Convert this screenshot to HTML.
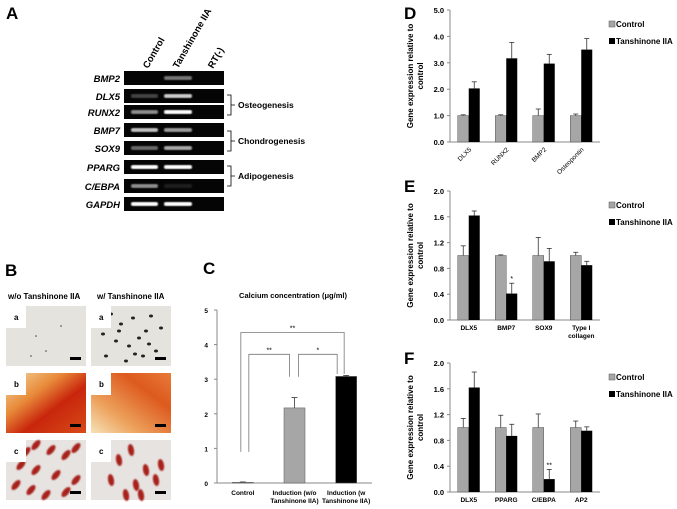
<!DOCTYPE html>
<html><head><meta charset="utf-8">
<style>
html,body{margin:0;padding:0;background:#fff;}
svg{display:block;font-family:"Liberation Sans",Arial,sans-serif;}
</style></head>
<body>
<svg id="fig" width="677" height="509" viewBox="0 0 677 509" xmlns="http://www.w3.org/2000/svg">
<defs>
  <filter id="blur1"><feGaussianBlur stdDeviation="0.8"/></filter>
  <filter id="blur2"><feGaussianBlur stdDeviation="1.6"/></filter>
  <linearGradient id="gb" x1="0" y1="0" x2="1" y2="1">
    <stop offset="0" stop-color="#f4d9a0"/><stop offset="0.35" stop-color="#e88a3a"/><stop offset="0.6" stop-color="#c8260c"/><stop offset="1" stop-color="#d84a18"/>
  </linearGradient>
  <linearGradient id="gb2" x1="0" y1="1" x2="1" y2="0">
    <stop offset="0" stop-color="#f6e2b8"/><stop offset="0.3" stop-color="#eda35e"/><stop offset="0.7" stop-color="#dd5a1e"/><stop offset="1" stop-color="#e87a3a"/>
  </linearGradient>
</defs>

<!-- Panel A -->
<g>
  <text x="6" y="19" font-size="17" font-weight="bold">A</text>
  <g font-size="9.5" font-weight="bold">
    <text transform="translate(148,69) rotate(-60)">Control</text>
    <text transform="translate(178,69) rotate(-60)">Tanshinone IIA</text>
    <text transform="translate(213,69) rotate(-60)">RT(-)</text>
  </g>
  <g id="gel"></g>
  <g font-size="9" font-weight="bold" stroke="#000" stroke-width="0.8" fill="none">
    <path d="M227,95 h4 v20 h-4 M231,105 h4"/>
    <path d="M227,131 h4 v20 h-4 M231,141 h4"/>
    <path d="M227,166 h4 v20 h-4 M231,176 h4"/>
  </g>
  <g font-size="8.5" font-weight="bold">
    <text x="238" y="108">Osteogenesis</text>
    <text x="238" y="144">Chondrogenesis</text>
    <text x="238" y="179">Adipogenesis</text>
  </g>
</g>

<!-- Panel B -->
<g>
  <text x="5" y="276" font-size="17" font-weight="bold">B</text>
  <text x="8" y="299" font-size="8" font-weight="bold">w/o Tanshinone IIA</text>
  <text x="97" y="299" font-size="8" font-weight="bold">w/ Tanshinone IIA</text>
  <g id="photos"></g>
</g>

<!-- Panel C -->
<g>
  <text x="203" y="274" font-size="17" font-weight="bold">C</text>
  <text x="293" y="298" font-size="7.5" font-weight="bold" text-anchor="middle">Calcium concentration (μg/ml)</text>
  <g id="chartC"></g>
</g>

<!-- Panels D, E, F -->
<g>
  <text x="404" y="19" font-size="17" font-weight="bold">D</text>
  <g id="chartD"></g>
</g>
<g>
  <text x="404" y="192" font-size="17" font-weight="bold">E</text>
  <g id="chartE"></g>
</g>
<g>
  <text x="404" y="364" font-size="17" font-weight="bold">F</text>
  <g id="chartF"></g>
</g>
</svg>

<script>
// ---------- Chart data ----------
const dCategories = ["DLX5","RUNX2","BMP2","Osteopontin"];
const dControl = [1.0,1.0,1.0,1.0];
const dControlErr = [0.03,0.03,0.25,0.06];
const dTan = [2.03,3.17,2.97,3.5];
const dTanErr = [0.25,0.6,0.35,0.42];
const dTicks = ["0.0","1.0","2.0","3.0","4.0","5.0"];

const eCategories = ["DLX5","BMP7","SOX9","Type I collagen"];
const eControl = [1.0,1.0,1.0,1.0];
const eControlErr = [0.15,0.01,0.28,0.05];
const eTan = [1.62,0.41,0.91,0.85];
const eTanErr = [0.07,0.16,0.2,0.06];
const eTicks = ["0.0","0.4","0.8","1.2","1.6","2.0"];
const eMarks = ["","*","",""];

const fCategories = ["DLX5","PPARG","C/EBPA","AP2"];
const fControl = [1.0,1.0,1.0,1.0];
const fControlErr = [0.14,0.19,0.21,0.1];
const fTan = [1.62,0.87,0.2,0.95];
const fTanErr = [0.24,0.18,0.15,0.06];
const fTicks = ["0.0","0.4","0.8","1.2","1.6","2.0"];
const fMarks = ["","","**",""];

const cCategories = ["Control","Induction (w/o|Tanshinone IIA)","Induction (w|Tanshinone IIA)"];
const cValues = [0.02,2.17,3.08];
const cErr = [0.01,0.3,0.03];
const cTicks = ["0","1","2","3","4","5"];

const gelGenes = ["BMP2","DLX5","RUNX2","BMP7","SOX9","PPARG","C/EBPA","GAPDH"];
const gelControl = [0.0,0.25,0.55,0.75,0.4,1.0,0.55,1.0];
const gelTan = [0.45,0.8,1.0,0.6,0.65,1.0,0.1,1.0];

const NS="http://www.w3.org/2000/svg";
function mk(tag, attrs, parent, text){
  const e=document.createElementNS(NS,tag);
  for(const k in attrs) e.setAttribute(k,attrs[k]);
  if(text!==undefined) e.textContent=text;
  parent.appendChild(e); return e;
}

// ---------- Gel ----------
(function(){
  const g=document.getElementById('gel');
  const rowTops=[71,89,105,123,141,160,179,197];
  gelGenes.forEach((gene,i)=>{
    const y=rowTops[i];
    const box=mk('rect',{x:124,y:y,width:100,height:14,fill:'#050505'},g);
    
    
    const b1=mk('rect',{x:131,y:y+5,width:27,height:4,rx:2,fill:'#fff','fill-opacity':gelControl[i],filter:'url(#blur1)'},g);
    
    
    const b2=mk('rect',{x:164,y:y+5,width:28,height:4,rx:2,fill:'#fff','fill-opacity':gelTan[i],filter:'url(#blur1)'},g);
    
    
    const t=mk('text',{x:120,y:y+11,'text-anchor':'end','font-size':9.5,'font-weight':'bold','font-style':'italic'},g,gene);
    
    
  });
})();

// ---------- Photos ----------
(function(){
  const g=document.getElementById('photos');
  const cols=[6,91], rows=[306,373,440], w=80, h=60, letters=['a','b','c'];
  rows.forEach((y,r)=>cols.forEach((x,c)=>{
    const pg=mk('g',{},g);
    
    
    let fill = r===1 ? (c?'url(#gb2)':'url(#gb)') : (r===0?'#e4e3de':'#e6e3e0');
    mk('rect',{x:x,y:y,width:w,height:h,fill:fill},pg);
    if(r===0 && c===1){
      const pts=[[20,8],[30,18],[42,12],[55,25],[60,10],[25,35],[38,40],[48,32],[65,45],[15,50],[35,55],[52,50],[70,22],[28,25],[44,48],[12,28],[58,38]];
      pts.forEach(p=>mk('ellipse',{cx:x+p[0],cy:y+p[1],rx:2,ry:1.5,fill:'#222'},pg));
    }
    if(r===0 && c===0){
      [[30,30],[40,45],[25,50],[55,20]].forEach(p=>mk('circle',{cx:x+p[0],cy:y+p[1],r:0.8,fill:'#444'},pg));
    }
    if(r===2){
      const pts = c===0 ? [[30,5],[45,10],[60,15],[15,25],[30,30],[50,35],[70,40],[10,45],[25,50],[40,55],[60,52],[20,12],[70,8]]
                        : [[28,20],[40,10],[55,30],[45,45],[65,40],[35,55],[50,55],[20,40],[70,25]];
      pts.forEach(p=>mk('ellipse',{cx:x+p[0],cy:y+p[1],rx:3,ry:6,fill:'#a8201c',transform:`rotate(${c?-10:40} ${x+p[0]} ${y+p[1]})`,filter:'url(#blur1)'},pg));
    }
    mk('rect',{x:x,y:y,width:20,height:22,fill:'#fff'},pg);
    mk('text',{x:x+8,y:y+14,'font-size':8,'font-weight':'bold'},pg,letters[r]);
    mk('rect',{x:x+w-16,y:y+h-9,width:11,height:3,fill:'#000'},pg);
  }));
})();

// ---------- Grouped bar charts ----------
function groupedChart(id, cats, ctl, ctlErr, tan, tanErr, ticks, maxV, y0, yTop, rotate, marks){
  const g=document.getElementById(id);
  const ax=450, axEnd=600;
  const ys=v=>y0-(v/maxV)*(y0-yTop);
  const gw=(axEnd-ax)/cats.length, bw=11;
  const xs=i=>ax+gw*(i+0.5);
  mk('line',{x1:ax,y1:yTop,x2:ax,y2:y0,stroke:'#888','stroke-width':1},g);
  mk('line',{x1:ax,y1:y0,x2:axEnd,y2:y0,stroke:'#888','stroke-width':1},g);
  ticks.forEach((t,i)=>{
    const v=i*maxV/(ticks.length-1);
    mk('line',{x1:ax-3,y1:ys(v),x2:ax,y2:ys(v),stroke:'#888'},g);
    const tx=mk('text',{x:ax-6,y:ys(v)+3,'text-anchor':'end','font-size':7.5,'font-weight':'bold'},g,t);
    
    
  });
  const yt=mk('text',{transform:`translate(413,${(y0+yTop)/2}) rotate(-90)`,'text-anchor':'middle','font-size':8,'font-weight':'bold'},g);
  
  
  mk('tspan',{x:0,dy:0},yt,'Gene expression relative to');
  mk('tspan',{x:0,dy:10},yt,'control');
  cats.forEach((c,i)=>{
    const cx=xs(i);
    const r1=mk('rect',{x:cx-bw,y:ys(ctl[i]),width:bw,height:y0-ys(ctl[i]),fill:'#a6a6a6',stroke:'#555','stroke-width':0.5},g);
    
    
    const r2=mk('rect',{x:cx,y:ys(tan[i]),width:bw,height:y0-ys(tan[i]),fill:'#000'},g);
    
    
    [[cx-bw/2,ctl[i],ctlErr[i]],[cx+bw/2,tan[i],tanErr[i]]].forEach(e=>{
      mk('line',{x1:e[0],y1:ys(e[1]),x2:e[0],y2:ys(e[1]+e[2]),stroke:'#333','stroke-width':0.8},g);
      mk('line',{x1:e[0]-2.5,y1:ys(e[1]+e[2]),x2:e[0]+2.5,y2:ys(e[1]+e[2]),stroke:'#333','stroke-width':0.8},g);
    });
    if(marks && marks[i]){
      mk('text',{x:cx+bw/2,y:ys(tan[i]+tanErr[i])-2,'text-anchor':'middle','font-size':7},g,marks[i]);
    }
    let lab;
    if(rotate){
      lab=mk('text',{transform:`translate(${cx+3},${y0+8}) rotate(-45)`,'text-anchor':'end','font-size':6.5},g,c);
    } else {
      const parts = c==="Type I collagen" ? ["Type I","collagen"] : [c];
      lab=mk('text',{x:cx,y:y0+10,'text-anchor':'middle','font-size':6.5,'font-weight':'bold'},g);
      parts.forEach((p,k)=>mk('tspan',{x:cx,dy:k?8:0},lab,p));
    }
    
    
  });
  const ly=yTop+16;
  const l1=mk('g',{},g);
  
  
  mk('rect',{x:609,y:ly-5,width:6,height:6,fill:'#a6a6a6',stroke:'#555','stroke-width':0.5},l1);
  mk('text',{x:616,y:ly+1,'font-size':8,'font-weight':'bold'},l1,'Control');
  const l2=mk('g',{},g);
  
  
  mk('rect',{x:609,y:ly+12,width:6,height:6,fill:'#000'},l2);
  mk('text',{x:616,y:ly+18,'font-size':8,'font-weight':'bold'},l2,'Tanshinone IIA');
}
groupedChart('chartD',dCategories,dControl,dControlErr,dTan,dTanErr,dTicks,5,142,10,true,null);
groupedChart('chartE',eCategories,eControl,eControlErr,eTan,eTanErr,eTicks,2,320,191,false,eMarks);
groupedChart('chartF',fCategories,fControl,fControlErr,fTan,fTanErr,fTicks,2,492,363,false,fMarks);

// ---------- Chart C ----------
(function(){
  const g=document.getElementById('chartC');
  const ax=217, axEnd=372, y0=483, yTop=310, maxV=5;
  const ys=v=>y0-(v/maxV)*(y0-yTop);
  const gw=(axEnd-ax)/cCategories.length, bw=21;
  const xs=i=>ax+gw*(i+0.5);
  mk('line',{x1:ax,y1:yTop,x2:ax,y2:y0,stroke:'#888'},g);
  mk('line',{x1:ax,y1:y0,x2:axEnd,y2:y0,stroke:'#888'},g);
  cTicks.forEach((t,i)=>{
    const v=i*maxV/(cTicks.length-1);
    mk('line',{x1:ax-3,y1:ys(v),x2:ax,y2:ys(v),stroke:'#888'},g);
    const tx=mk('text',{x:ax-9,y:ys(v)+3,'text-anchor':'end','font-size':6.5,'font-weight':'bold'},g,t);
    
    
  });
  const fills=['#a6a6a6','#a6a6a6','#000'];
  cCategories.forEach((c,i)=>{
    const cx=xs(i);
    const r=mk('rect',{x:cx-bw/2,y:ys(cValues[i]),width:bw,height:y0-ys(cValues[i]),fill:fills[i],stroke:'#555','stroke-width':0.5},g);
    
    
    const te=ys(cValues[i]+cErr[i]);
    mk('line',{x1:cx,y1:ys(cValues[i]),x2:cx,y2:te,stroke:'#333','stroke-width':0.8},g);
    mk('line',{x1:cx-3,y1:te,x2:cx+3,y2:te,stroke:'#333','stroke-width':0.8},g);
    const lab=mk('text',{x:cx,y:y0+12,'text-anchor':'middle','font-size':6.5,'font-weight':'bold'},g);
    c.split('|').forEach((p,k)=>mk('tspan',{x:cx,dy:k?8:0},lab,p));
    
    
  });
  // significance brackets (based on bar positions)
  function bracket(x1,ya,x2,yb,yt,label){
    const p=mk('path',{d:`M${x1},${ys(ya)} V${ys(yt)} H${x2} V${ys(yb)}`,fill:'none',stroke:'#777','stroke-width':0.8},g);
    
    
    mk('text',{x:(x1+x2)/2,y:ys(yt)-2,'text-anchor':'middle','font-size':7},g,label);
  }
  bracket(xs(0)-2,0.9,xs(2)-2,cValues[2]+0.07,4.35,'**');
  bracket(xs(0)+6,0.9,xs(1)-5,cValues[1]+0.9,3.72,'**');
  bracket(xs(1)+4,cValues[1]+0.9,xs(2)-9,cValues[2]+0.07,3.72,'*');
})();
</script>
</body></html>
